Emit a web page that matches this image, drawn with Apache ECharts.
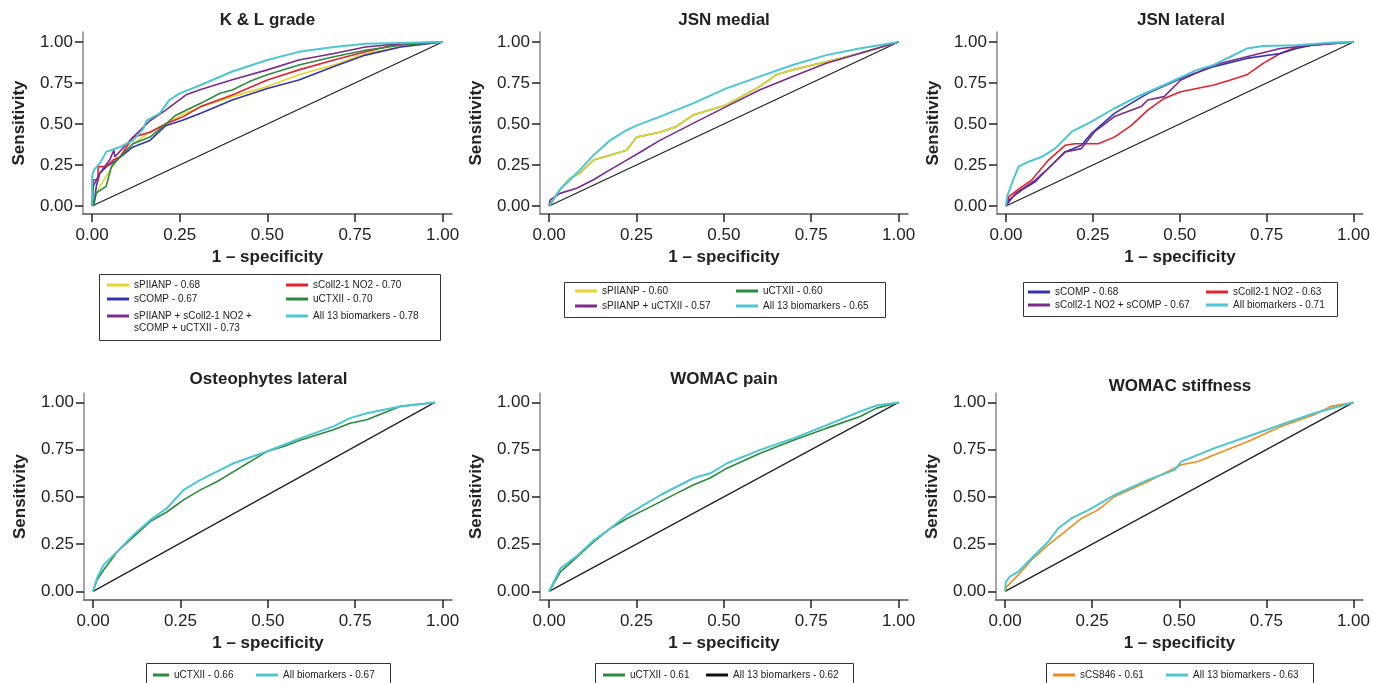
<!DOCTYPE html>
<html>
<head>
<meta charset="utf-8">
<script src="https://cdn.jsdelivr.net/npm/echarts@6.0.0/dist/echarts.min.js"></script>
<style>html,body{margin:0;padding:0;background:#fff}#c{width:1373px;height:683px}</style>
</head>
<body>
<div id="c"></div>
<script>
// ---------- data ----------
const TICKS = [0, 0.25, 0.5, 0.75, 1];
const titles = ['K & L grade', 'JSN medial', 'JSN lateral', 'Osteophytes lateral', 'WOMAC pain', 'WOMAC stiffness'];

// K & L grade
const klYellow = [[0,0],[0.005,0.04],[0.022,0.12],[0.04,0.18],[0.07,0.28],[0.117,0.38],[0.165,0.45],[0.21,0.50],[0.26,0.56],[0.31,0.606],[0.40,0.667],[0.50,0.728],[0.59,0.80],[0.69,0.86],[0.78,0.93],[0.88,0.97],[1,1]];
const klBlue = [[0,0],[0.007,0.04],[0.012,0.12],[0.022,0.20],[0.041,0.24],[0.07,0.28],[0.117,0.36],[0.165,0.40],[0.21,0.49],[0.26,0.524],[0.31,0.565],[0.40,0.646],[0.50,0.717],[0.59,0.768],[0.69,0.85],[0.78,0.92],[0.88,0.97],[1,1]];
const klRed = [[0,0],[0.003,0.16],[0.017,0.16],[0.017,0.24],[0.04,0.24],[0.06,0.28],[0.08,0.30],[0.117,0.42],[0.165,0.45],[0.21,0.50],[0.26,0.545],[0.31,0.606],[0.40,0.677],[0.50,0.768],[0.59,0.83],[0.69,0.89],[0.78,0.94],[0.88,0.99],[1,1]];
const klGreen = [[0.005,0],[0.008,0.04],[0.012,0.08],[0.04,0.12],[0.055,0.24],[0.08,0.30],[0.117,0.38],[0.165,0.42],[0.21,0.50],[0.24,0.555],[0.31,0.626],[0.365,0.687],[0.40,0.707],[0.45,0.76],[0.50,0.80],[0.59,0.86],[0.69,0.91],[0.78,0.95],[0.88,0.98],[1,1]];
const klPurple = [[0,0],[0.003,0.12],[0.022,0.20],[0.05,0.28],[0.062,0.34],[0.065,0.30],[0.117,0.42],[0.165,0.52],[0.21,0.585],[0.27,0.68],[0.31,0.71],[0.40,0.77],[0.50,0.83],[0.59,0.89],[0.69,0.93],[0.78,0.97],[0.88,0.99],[1,1]];
const klCyan = [[0,0],[0,0.18],[0.005,0.22],[0.022,0.26],[0.04,0.33],[0.08,0.36],[0.117,0.40],[0.146,0.47],[0.155,0.52],[0.193,0.565],[0.22,0.646],[0.25,0.687],[0.31,0.738],[0.40,0.82],[0.50,0.89],[0.59,0.94],[0.69,0.97],[0.78,0.99],[1,1]];

// JSN medial
const jmGreen = [[0,0],[0.031,0.10],[0.06,0.17],[0.088,0.20],[0.127,0.28],[0.174,0.31],[0.222,0.34],[0.25,0.42],[0.317,0.45],[0.364,0.484],[0.412,0.555],[0.507,0.616],[0.602,0.728],[0.65,0.80],[0.697,0.83],[0.793,0.88],[0.888,0.93],[1,1]];
const jmYellow = [[0,0],[0.031,0.10],[0.06,0.17],[0.088,0.20],[0.127,0.28],[0.174,0.31],[0.222,0.34],[0.25,0.42],[0.317,0.45],[0.364,0.484],[0.412,0.555],[0.507,0.616],[0.602,0.728],[0.65,0.80],[0.697,0.83],[0.793,0.88],[0.888,0.93],[1,1]];
const jmPurple = [[0,0],[0.003,0.037],[0.031,0.077],[0.079,0.108],[0.127,0.16],[0.174,0.22],[0.222,0.28],[0.27,0.34],[0.317,0.40],[0.412,0.504],[0.507,0.606],[0.602,0.707],[0.697,0.789],[0.793,0.87],[0.888,0.93],[1,1]];
const jmCyan = [[0,0],[0.031,0.10],[0.06,0.16],[0.088,0.22],[0.127,0.31],[0.174,0.40],[0.222,0.463],[0.25,0.49],[0.317,0.545],[0.412,0.626],[0.507,0.717],[0.602,0.789],[0.697,0.86],[0.793,0.92],[0.888,0.96],[1,1]];

// JSN lateral
const jlBlue = [[0,0],[0.008,0.037],[0.046,0.098],[0.084,0.148],[0.122,0.23],[0.17,0.33],[0.217,0.37],[0.246,0.443],[0.312,0.565],[0.408,0.687],[0.503,0.778],[0.598,0.85],[0.693,0.90],[0.789,0.93],[0.836,0.96],[0.88,0.98],[1,1]];
const jlRed = [[0,0],[0.008,0.057],[0.046,0.118],[0.074,0.158],[0.122,0.28],[0.17,0.37],[0.198,0.38],[0.265,0.38],[0.312,0.42],[0.36,0.49],[0.408,0.585],[0.455,0.656],[0.503,0.697],[0.598,0.738],[0.646,0.768],[0.693,0.80],[0.74,0.87],[0.789,0.93],[0.836,0.97],[0.93,0.995],[1,1]];
const jlPurple = [[0,0],[0.027,0.077],[0.084,0.158],[0.122,0.23],[0.17,0.33],[0.217,0.35],[0.255,0.453],[0.312,0.545],[0.389,0.606],[0.408,0.646],[0.455,0.667],[0.503,0.768],[0.598,0.86],[0.693,0.91],[0.789,0.96],[0.88,0.98],[1,1]];
const jlCyan = [[0,0],[0.003,0.057],[0.017,0.14],[0.036,0.24],[0.065,0.27],[0.103,0.30],[0.141,0.35],[0.189,0.453],[0.246,0.514],[0.312,0.596],[0.389,0.677],[0.455,0.738],[0.55,0.83],[0.598,0.86],[0.646,0.91],[0.693,0.96],[0.74,0.976],[0.836,0.98],[0.93,0.996],[1,1]];

// Osteophytes lateral
const osGreen = [[0,0],[0.011,0.06],[0.03,0.113],[0.069,0.21],[0.116,0.29],[0.164,0.37],[0.211,0.42],[0.259,0.484],[0.307,0.537],[0.354,0.58],[0.402,0.634],[0.45,0.687],[0.497,0.74],[0.545,0.767],[0.592,0.80],[0.688,0.855],[0.735,0.89],[0.783,0.908],[0.878,0.979],[0.978,1]];
const osCyan = [[0,0],[0.011,0.069],[0.03,0.14],[0.069,0.21],[0.116,0.30],[0.164,0.378],[0.211,0.44],[0.259,0.537],[0.307,0.59],[0.354,0.634],[0.402,0.678],[0.497,0.74],[0.592,0.81],[0.688,0.873],[0.735,0.917],[0.783,0.943],[0.878,0.979],[0.978,1]];

// WOMAC pain
const wpGreen = [[0,0],[0.033,0.104],[0.081,0.184],[0.128,0.263],[0.176,0.334],[0.224,0.387],[0.271,0.43],[0.319,0.475],[0.366,0.52],[0.414,0.564],[0.461,0.60],[0.509,0.652],[0.604,0.731],[0.699,0.80],[0.794,0.864],[0.89,0.926],[0.937,0.97],[1,1]];
const wpCyan = [[0,0],[0.033,0.122],[0.081,0.19],[0.128,0.27],[0.176,0.334],[0.224,0.405],[0.271,0.458],[0.319,0.51],[0.366,0.555],[0.414,0.60],[0.461,0.625],[0.509,0.678],[0.604,0.749],[0.699,0.81],[0.794,0.88],[0.89,0.952],[0.937,0.984],[1,1]];

// WOMAC stiffness
const wsOrange = [[0,0],[0.005,0.025],[0.019,0.051],[0.038,0.087],[0.076,0.166],[0.124,0.246],[0.172,0.316],[0.22,0.387],[0.267,0.431],[0.315,0.502],[0.41,0.581],[0.506,0.67],[0.554,0.687],[0.601,0.723],[0.697,0.793],[0.792,0.873],[0.887,0.935],[0.935,0.979],[1,1]];
const wsCyan = [[0,0],[0.002,0.05],[0.014,0.078],[0.038,0.104],[0.076,0.175],[0.124,0.263],[0.153,0.334],[0.191,0.387],[0.239,0.43],[0.315,0.51],[0.41,0.59],[0.487,0.643],[0.506,0.687],[0.601,0.758],[0.697,0.82],[0.792,0.882],[0.887,0.943],[1,1]];

// reference diagonals
const diagFull = [[0,0],[1,1]];
const diagOst = [[0,0],[0.978,1]];

// ---------- styling ----------
const FONT = '"Liberation Sans", Arial, Helvetica, sans-serif';
const C = {yellow:'#e6d52e', blue:'#3434b2', purple:'#7a2a8c', red:'#e2222c', green:'#2b8a3c', cyan:'#4dc6d0', orange:'#f28a1e', black:'#222222'};
const COMBO = 'sPIIANP + sColl2-1 NO2 + sCOMP + uCTXII - 0.73';

const grids = [
  {left:83, top:32, width:369, height:182},
  {left:540, top:32, width:368, height:182},
  {left:997, top:32, width:368, height:182},
  {left:84, top:393, width:368, height:207},
  {left:540, top:393, width:368, height:207},
  {left:996, top:393, width:367, height:207}
];
const yRange = [[-0.0488,1.061],[-0.0488,1.061],[-0.0488,1.061],[-0.046,1.05],[-0.046,1.05],[-0.046,1.05]];
const titleTops = [12, 12, 12, 371, 371, 378];

const xAxes = grids.map((g,i)=>({
  gridIndex:i, type:'value', min:-0.026, max:1.027,
  axisLine:{show:true, onZero:false, lineStyle:{color:'#555', width:1.5}},
  axisTick:{show:true, customValues:TICKS, length:8, lineStyle:{color:'#222', width:1.5}},
  axisLabel:{customValues:TICKS, formatter:v=>v.toFixed(2), fontSize:17, color:'#222', margin:13, fontFamily:FONT},
  splitLine:{show:false},
  name:'1 – specificity', nameLocation:'middle', nameGap:35,
  nameTextStyle:{fontWeight:'bold', fontSize:17, color:'#222', fontFamily:FONT}
}));
const yAxes = grids.map((g,i)=>({
  gridIndex:i, type:'value', min:yRange[i][0], max:yRange[i][1],
  axisLine:{show:true, onZero:false, lineStyle:{color:'#888', width:1.5}},
  axisTick:{show:true, customValues:TICKS, length:8, lineStyle:{color:'#222', width:1.5}},
  axisLabel:{customValues:TICKS, formatter:v=>v.toFixed(2), fontSize:17, color:'#222', margin:10, fontFamily:FONT},
  splitLine:{show:false},
  name:'Sensitivity', nameLocation:'middle', nameGap:55,
  nameTextStyle:{fontWeight:'bold', fontSize:17, color:'#222', fontFamily:FONT}
}));

const series = [];
function line(i, name, data, color, width){
  series.push({type:'line', name, data, xAxisIndex:i, yAxisIndex:i, showSymbol:false, symbol:'none',
    lineStyle:{color, width: width||1.6}, itemStyle:{color}, animation:false, silent:true, z:3});
}
function diag(i, data){
  series.push({type:'line', name:'ref'+i, data, xAxisIndex:i, yAxisIndex:i, showSymbol:false, symbol:'none',
    lineStyle:{color:'#222', width:1.3}, itemStyle:{color:'#222'}, animation:false, silent:true, z:2});
}
diag(0, diagFull);
line(0,'sPIIANP - 0.68', klYellow, C.yellow);
line(0,'sCOMP - 0.67', klBlue, C.blue);
line(0,'sColl2-1 NO2 - 0.70', klRed, C.red);
line(0,'uCTXII - 0.70', klGreen, C.green);
line(0, COMBO, klPurple, C.purple);
line(0,'All 13 biomarkers - 0.78', klCyan, C.cyan, 2);

diag(1, diagFull);
line(1,'uCTXII - 0.60', jmGreen, C.green);
line(1,'sPIIANP - 0.60', jmYellow, C.yellow);
line(1,'sPIIANP + uCTXII - 0.57', jmPurple, C.purple);
line(1,'All 13 biomarkers - 0.65', jmCyan, C.cyan, 2);

diag(2, diagFull);
line(2,'sColl2-1 NO2 - 0.63', jlRed, C.red);
line(2,'sCOMP - 0.68', jlBlue, C.blue);
line(2,'sColl2-1 NO2 + sCOMP - 0.67', jlPurple, C.purple);
line(2,'All biomarkers - 0.71', jlCyan, C.cyan, 2);

diag(3, diagOst);
line(3,'uCTXII - 0.66', osGreen, C.green);
line(3,'All biomarkers - 0.67', osCyan, C.cyan, 2);

diag(4, diagFull);
line(4,'uCTXII - 0.61', wpGreen, C.green);
line(4,'All 13 biomarkers - 0.62', wpCyan, C.cyan, 2);

diag(5, diagFull);
line(5,'sCS846 - 0.61', wsOrange, C.orange);
line(5,'All 13 biomarkers - 0.63', wsCyan, C.cyan, 2);

function leg(name, textX, rowY, iconColor, label, iconW){
  const w = iconW || 22;
  const d = {name};
  if (iconColor) d.itemStyle = {color: iconColor};
  const o = {data:[d], left:textX-5-w, top:rowY-7, padding:0, itemWidth:w, itemHeight:3, icon:'rect',
    selectedMode:false, textStyle:{fontSize:10, color:'#222', fontFamily:FONT, lineHeight:14}};
  if (label) o.formatter = ()=>label;
  return o;
}
const legends = [
  leg('sPIIANP - 0.68', 134, 285), leg('sCOMP - 0.67', 134, 299), leg(COMBO, 134, 316, null, 'sPIIANP + sColl2-1 NO2 +'),
  leg('sColl2-1 NO2 - 0.70', 313, 285), leg('uCTXII - 0.70', 313, 299), leg('All 13 biomarkers - 0.78', 313, 316),
  leg('sPIIANP - 0.60', 602, 291), leg('sPIIANP + uCTXII - 0.57', 602, 306),
  leg('uCTXII - 0.60', 763, 291), leg('All 13 biomarkers - 0.65', 763, 306),
  leg('sCOMP - 0.68', 1055, 292), leg('sColl2-1 NO2 + sCOMP - 0.67', 1055, 305),
  leg('sColl2-1 NO2 - 0.63', 1233, 292), leg('All biomarkers - 0.71', 1233, 305),
  leg('uCTXII - 0.66', 174, 675, null, null, 16), leg('All biomarkers - 0.67', 283, 675),
  leg('uCTXII - 0.61', 630, 675), leg('All 13 biomarkers - 0.62', 733, 675, '#111'),
  leg('sCS846 - 0.61', 1080, 675), leg('All 13 biomarkers - 0.63', 1193, 675)
];

function box(x1,y1,x2,y2){
  return {type:'rect', shape:{x:x1+0.5, y:y1+0.5, width:x2-x1, height:y2-y1}, style:{fill:'none', stroke:'#333', lineWidth:1}, silent:true};
}
const graphics = [
  box(99,274,440,340), box(564,282,885,317), box(1023,282,1337,316),
  box(146,663,390,700), box(595,663,853,700), box(1046,663,1313,700),
  {type:'text', left:134, top:323, style:{text:'sCOMP + uCTXII - 0.73', fontSize:10, fill:'#222', font:'10px ' + FONT}, silent:true}
];

const option = {
  animation:false,
  backgroundColor:'#fff',
  title: titles.map((t,i)=>({text:t, left: grids[i].left + (i%3===0 ? 184.5 : 184), top:titleTops[i], textAlign:'center',
    textStyle:{fontSize:17, fontWeight:'bold', color:'#222', fontFamily:FONT}, padding:0})),
  grid: grids.map(g=>Object.assign({containLabel:false}, g)),
  xAxis: xAxes, yAxis: yAxes,
  legend: legends,
  graphic: graphics,
  series
};
const chart = echarts.init(document.getElementById('c'), null, {renderer:'canvas'});
chart.setOption(option);
</script>
</body>
</html>
